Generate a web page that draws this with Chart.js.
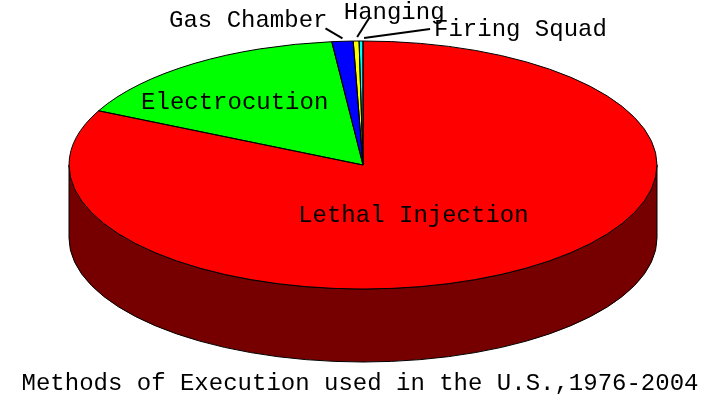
<!DOCTYPE html>
<html>
<head>
<meta charset="utf-8">
<script src="https://cdn.jsdelivr.net/npm/chart.js@4.4.1/dist/chart.umd.min.js"></script>
<style>
  html, body { margin: 0; padding: 0; background: #fff; }
  #wrap { width: 727px; height: 404px; }
</style>
</head>
<body>
<div id="wrap"><canvas id="pie"></canvas></div>
<script>
// Chart data
const methods = ['Lethal Injection', 'Electrocution', 'Gas Chamber', 'Hanging', 'Firing Squad'];
const executions = [776, 152, 11, 3, 2];
const topColors = ['#ff0000', '#00ff00', '#0000ff', '#ffff00', '#00ffff'];
const sideColors = ['#760000', '#007600', '#000076', '#767600', '#007676'];
const chartTitle = 'Methods of Execution used in the U.S.,1976-2004';

// Where the tilted pie sits on the page
const ELLIPSE = { cx: 363, cy: 165, rx: 294, ry: 124, depth: 73 };
const FONT = '24px "Liberation Mono", "DejaVu Sans Mono", monospace';

// Label placement per slice: big slices get the text inside at a fraction of
// the radius, small ones get a leader line from the rim
const labelPlacement = [
  { inside: 0.4, dx: -12, dy: 15 },
  { inside: 0.7, dx: -10, dy: 15 },
  { from: [0, -3], to: [-17, -13], text: [-15, -14], align: 'right' },
  { from: [1, -4], to: [13, -23], text: [38, -22], align: 'center' },
  { from: [3, -3], to: [69, -12], text: [73, -5], align: 'left' }
];

// Point on the top ellipse at a given angle and fraction of the radius
function rimPoint(angle, frac) {
  return {
    x: ELLIPSE.cx + ELLIPSE.rx * frac * Math.cos(angle),
    y: ELLIPSE.cy + ELLIPSE.ry * frac * Math.sin(angle)
  };
}

// Turns the flat pie into a tilted disc with a side wall
const tiltPlugin = {
  id: 'tilt',
  beforeDatasetsDraw(chart) {
    const ctx = chart.ctx;
    const arcs = chart.getDatasetMeta(0).data;
    const { cx, cy, rx, ry, depth } = ELLIPSE;

    // side wall, only the front half (0..PI) is visible
    arcs.forEach((arc, i) => {
      const a = Math.max(arc.startAngle, 0);
      const b = Math.min(arc.endAngle, Math.PI);
      if (b <= a) return;
      ctx.beginPath();
      ctx.ellipse(cx, cy, rx, ry, 0, a, b);
      ctx.ellipse(cx, cy + depth, rx, ry, 0, b, a, true);
      ctx.closePath();
      ctx.fillStyle = sideColors[i];
      ctx.fill();
      ctx.lineWidth = 1;
      ctx.strokeStyle = '#000';
      ctx.stroke();
    });

    // squash the library's circle into the ellipse for the top face
    const first = arcs[0];
    const r = first.outerRadius;
    ctx.save();
    ctx.translate(cx, cy);
    ctx.scale(rx / r, ry / r);
    ctx.translate(-first.x, -first.y);
  },
  afterDatasetsDraw(chart) {
    const ctx = chart.ctx;
    ctx.restore();
    const arcs = chart.getDatasetMeta(0).data;
    const { cx, cy, rx, ry } = ELLIPSE;

    // black outlines round each slice
    ctx.lineWidth = 1;
    ctx.strokeStyle = '#000';
    arcs.forEach(arc => {
      const p = rimPoint(arc.startAngle, 1);
      ctx.beginPath();
      ctx.moveTo(cx, cy);
      ctx.lineTo(p.x, p.y);
      ctx.ellipse(cx, cy, rx, ry, 0, arc.startAngle, arc.endAngle);
      ctx.closePath();
      ctx.stroke();
    });

    // slice labels
    ctx.font = FONT;
    ctx.fillStyle = '#000';
    ctx.textBaseline = 'alphabetic';
    arcs.forEach((arc, i) => {
      const spec = labelPlacement[i];
      const mid = (arc.startAngle + arc.endAngle) / 2;
      if (spec.inside) {
        const p = rimPoint(mid, spec.inside);
        ctx.textAlign = 'center';
        ctx.fillText(methods[i], p.x + spec.dx, p.y + spec.dy);
      } else {
        const e = rimPoint(mid, 1);
        ctx.beginPath();
        ctx.lineWidth = 2;
        ctx.moveTo(e.x + spec.from[0], e.y + spec.from[1]);
        ctx.lineTo(e.x + spec.to[0], e.y + spec.to[1]);
        ctx.stroke();
        ctx.textAlign = spec.align;
        ctx.fillText(methods[i], e.x + spec.text[0], e.y + spec.text[1]);
      }
    });
  }
};

const pieChart = new Chart(document.getElementById('pie').getContext('2d'), {
  type: 'pie',
  data: {
    labels: methods,
    datasets: [{
      data: executions,
      backgroundColor: topColors,
      borderWidth: 0,
      hoverOffset: 0,
      clip: false
    }]
  },
  options: {
    responsive: true,
    maintainAspectRatio: false,
    animation: false,
    events: [],
    layout: { padding: { left: 0, right: 7, top: 0, bottom: 0 } },
    plugins: {
      legend: { display: false },
      tooltip: { enabled: false },
      title: {
        display: true,
        position: 'bottom',
        text: chartTitle,
        color: '#000',
        font: { family: '"Liberation Mono", "DejaVu Sans Mono", monospace', size: 24, weight: 'normal' },
        padding: { top: 0, bottom: 6 }
      }
    }
  },
  plugins: [tiltPlugin]
});
</script>
</body>
</html>
